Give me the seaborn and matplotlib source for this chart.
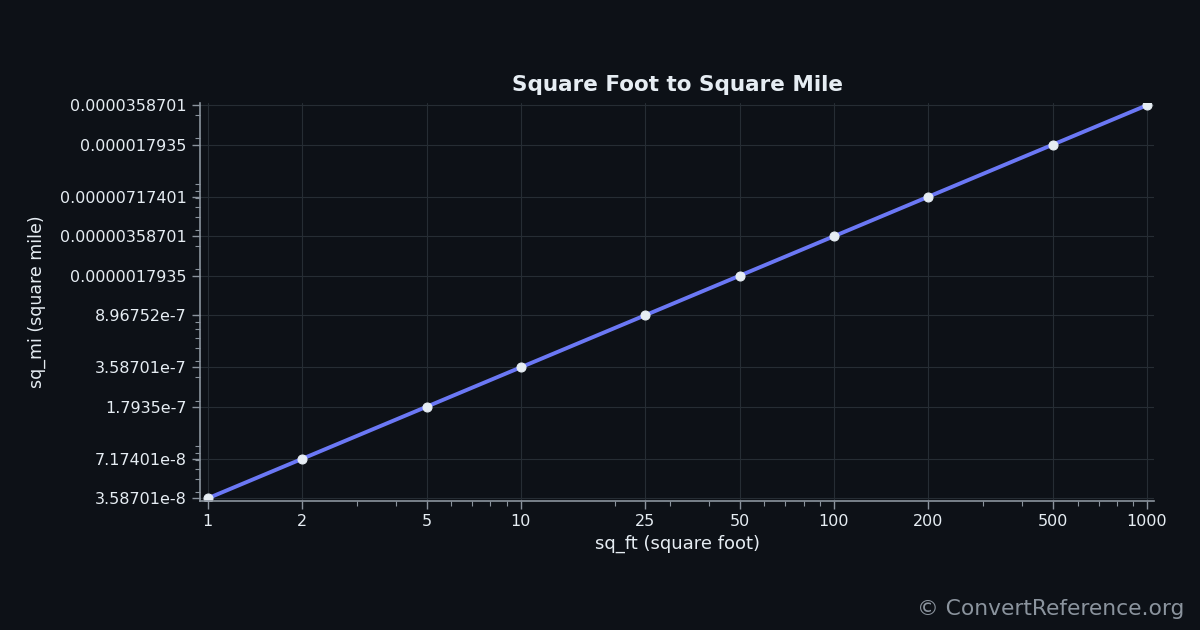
import matplotlib
matplotlib.use('Agg')
import matplotlib.pyplot as plt
from matplotlib.ticker import FixedLocator, FixedFormatter, NullFormatter
import seaborn as sns
import pandas as pd

sq_ft = [1, 2, 5, 10, 25, 50, 100, 200, 500, 1000]
sq_mi = [3.58701e-8, 7.17401e-8, 1.7935e-7, 3.58701e-7, 8.96752e-7,
         1.7935e-6, 3.58701e-6, 7.17401e-6, 1.7935e-5, 3.58701e-5]
x_labels = ['1', '2', '5', '10', '25', '50', '100', '200', '500', '1000']
y_labels = ['3.58701e-8', '7.17401e-8', '1.7935e-7', '3.58701e-7', '8.96752e-7',
            '0.0000017935', '0.00000358701', '0.00000717401', '0.000017935', '0.0000358701']

bg = '#0d1117'
fg = '#e6edf3'
grid_c = '#262d34'
spine_c = '#8b949e'

sns.set_theme(style='dark')
plt.rcParams['font.family'] = ['DejaVu Sans']

df = pd.DataFrame({'sq_ft': sq_ft, 'sq_mi': sq_mi})

fig = plt.figure(figsize=(12, 6.3), dpi=100, facecolor=bg)
ax = fig.add_axes([0.1667, 0.2052, 0.795, 0.631])
ax.set_facecolor(bg)

sns.lineplot(data=df, x='sq_ft', y='sq_mi', ax=ax, color='#6b78f5', linewidth=2.8,
             marker='o', markersize=6.5, markerfacecolor='#e6edf3', markeredgecolor='#e6edf3')

ax.set_xscale('log')
ax.set_yscale('log')
ax.set_xlim(0.945, 1053)
ax.set_ylim(3.44e-8, 3.716e-5)

ax.xaxis.set_major_locator(FixedLocator(sq_ft))
ax.xaxis.set_major_formatter(FixedFormatter(x_labels))
ax.xaxis.set_minor_formatter(NullFormatter())
ax.yaxis.set_major_locator(FixedLocator(sq_mi))
ax.yaxis.set_major_formatter(FixedFormatter(y_labels))
ax.yaxis.set_minor_formatter(NullFormatter())

ax.grid(True, which='major', color=grid_c, linewidth=0.8)
ax.grid(False, which='minor')

for s in ['top', 'right']:
    ax.spines[s].set_visible(False)
for s in ['left', 'bottom']:
    ax.spines[s].set_color(spine_c)
    ax.spines[s].set_linewidth(1.2)

ax.tick_params(axis='both', which='major', colors=spine_c, labelcolor=fg,
               labelsize=11.5, length=6, width=1, bottom=True, left=True)
ax.tick_params(axis='both', which='minor', colors=spine_c, length=3.5, width=0.8,
               bottom=True, left=True)

ax.set_xlabel('sq_ft (square foot)', color=fg, fontsize=13, labelpad=4)
ax.set_ylabel('sq_mi (square mile)', color=fg, fontsize=12.5, labelpad=10)
ax.set_title('Square Foot to Square Mile', color=fg, fontsize=15.5, fontweight='bold', pad=9)

fig.text(0.987, 0.024, '\u00a9 ConvertReference.org', color='#8b949e', fontsize=15.7,
         ha='right', va='baseline')

fig.savefig('out.png', dpi=100, facecolor=bg)
